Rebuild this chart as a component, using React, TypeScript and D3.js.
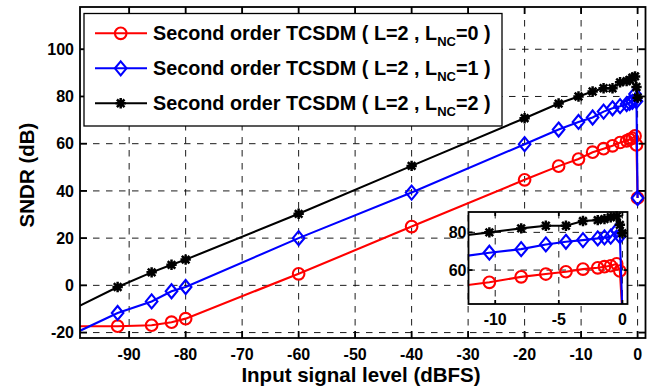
import React, { useEffect, useRef } from "react";
import * as d3 from "d3";

// input level (dBFS), shared by the three curves
const levels = [-100, -92.04, -86.02, -82.5, -80, -60, -40, -20, -13.98, -10.46, -7.96, -6.02, -4.44, -3.1, -1.94, -1.41, -0.92, -0.45, -0.2, 0];
// SNDR (dB) per configuration
const sndrNc0 = [-17.3, -17.3, -16.9, -15.6, -14.1, 4.9, 24.9, 44.7, 50.5, 53.5, 56.4, 57.9, 59.1, 60.5, 61.2, 61.8, 62.3, 63.3, 59.5, 37];
const sndrNc1 = [-20.7, -11.7, -6.8, -2.5, -0.7, 20, 39.3, 59.8, 66, 69.2, 71.1, 73.6, 75, 75.9, 76.8, 77.3, 77.7, 81, 78, 37];
const sndrNc2 = [-10.1, -0.7, 5.5, 8.7, 10.9, 30.3, 50.6, 70.8, 77, 80, 82.1, 83.5, 83.5, 86, 86.5, 87, 88, 88.5, 84, 79.5];

const seriesNames = ["0", "1", "2"];
const xTicks = [-90, -80, -70, -60, -50, -40, -30, -20, -10, 0];
const yTicks = [-20, 0, 20, 40, 60, 80, 100];
const insetXTicks = [-10, -5, 0];
const insetYTicks = [60, 80];

type Kind = "circle" | "diamond" | "star";

const FONT = "'Liberation Sans', Arial, Helvetica, sans-serif";

function markerPath(kind: Kind) {
  if (kind === "circle") return "M5.8,0A5.8,5.8 0 1,1 -5.8,0A5.8,5.8 0 1,1 5.8,0Z";
  if (kind === "diamond") return "M0,-7L5.8,0L0,7L-5.8,0Z";
  return "M-5.2,0L5.2,0M0,-5.2L0,5.2M-3.8,-3.8L3.8,3.8M-3.8,3.8L3.8,-3.8";
}

export default function App() {
  const ref = useRef<SVGSVGElement>(null);

  useEffect(() => {
    const svg = d3.select(ref.current);
    svg.selectAll("*").remove();

    const series = [
      { vals: sndrNc0, color: "#ff0000", kind: "circle" as Kind },
      { vals: sndrNc1, color: "#0000ff", kind: "diamond" as Kind },
      { vals: sndrNc2, color: "#000000", kind: "star" as Kind },
    ];

    const box = { left: 80, right: 645.5, top: 7, bottom: 338 };
    const x = d3.scaleLinear().domain([-98.7, 1.4]).range([box.left, box.right]);
    const y = d3.scaleLinear().domain([-22.3, 117.9]).range([box.bottom, box.top]);

    const ibox = { left: 468.5, right: 627.5, top: 212, bottom: 304 };
    const ix = d3.scaleLinear().domain([-12.1, 0.4]).range([ibox.left, ibox.right]);
    const iy = d3.scaleLinear().domain([42, 90.8]).range([ibox.bottom, ibox.top]);

    const defs = svg.append("defs");
    defs.append("clipPath").attr("id", "clipMain").append("rect")
      .attr("x", box.left).attr("y", box.top).attr("width", box.right - box.left).attr("height", box.bottom - box.top);
    defs.append("clipPath").attr("id", "clipInset").append("rect")
      .attr("x", ibox.left).attr("y", ibox.top).attr("width", ibox.right - ibox.left).attr("height", ibox.bottom - ibox.top);

    // draws one axes panel (grid, curves, frame, ticks)
    const panel = (
      xs: d3.ScaleLinear<number, number>, ys: d3.ScaleLinear<number, number>,
      b: typeof box, xt: number[], yt: number[], clip: string, tickLen: number, bg: boolean
    ) => {
      const g = svg.append("g");
      if (bg) g.append("rect").attr("x", b.left).attr("y", b.top).attr("width", b.right - b.left).attr("height", b.bottom - b.top).attr("fill", "#fff");

      const grid = g.append("g").attr("stroke", "#000").attr("stroke-width", 0.9).attr("stroke-dasharray", "6.5,6.5");
      xt.forEach(t => grid.append("line").attr("x1", xs(t)).attr("x2", xs(t)).attr("y1", b.top).attr("y2", b.bottom));
      yt.forEach(t => grid.append("line").attr("y1", ys(t)).attr("y2", ys(t)).attr("x1", b.left).attr("x2", b.right));

      const [d0, d1] = xs.domain();
      const [e0, e1] = ys.domain();
      series.forEach(s => {
        const pts = levels.map((l, i) => [l, s.vals[i]] as [number, number]);
        const line = d3.line<[number, number]>().x(d => xs(d[0])).y(d => ys(d[1]));
        g.append("path").attr("clip-path", `url(#${clip})`).attr("d", line(pts)!)
          .attr("fill", "none").attr("stroke", s.color).attr("stroke-width", 2.1);
        g.append("g").selectAll("path")
          .data(pts.filter(p => p[0] >= d0 && p[0] <= d1 && p[1] >= e0 && p[1] <= e1))
          .join("path")
          .attr("transform", p => `translate(${xs(p[0])},${ys(p[1])})`)
          .attr("d", markerPath(s.kind))
          .attr("fill", "none").attr("stroke", s.color)
          .attr("stroke-width", s.kind === "star" ? 2.5 : 2.1);
      });

      const fr = g.append("g").attr("stroke", "#000").attr("stroke-width", 1.8);
      fr.append("rect").attr("x", b.left).attr("y", b.top).attr("width", b.right - b.left).attr("height", b.bottom - b.top).attr("fill", "none");
      xt.forEach(t => {
        fr.append("line").attr("x1", xs(t)).attr("x2", xs(t)).attr("y1", b.bottom).attr("y2", b.bottom - tickLen);
        fr.append("line").attr("x1", xs(t)).attr("x2", xs(t)).attr("y1", b.top).attr("y2", b.top + tickLen);
      });
      yt.forEach(t => {
        fr.append("line").attr("y1", ys(t)).attr("y2", ys(t)).attr("x1", b.left).attr("x2", b.left + tickLen);
        fr.append("line").attr("y1", ys(t)).attr("y2", ys(t)).attr("x1", b.right).attr("x2", b.right - tickLen);
      });
      return g;
    };

    const main = panel(x, y, box, xTicks, yTicks, "clipMain", 7, false);
    main.selectAll(".xl").data(xTicks).join("text")
      .attr("x", d => x(d)).attr("y", 360).attr("text-anchor", "middle").text(d => String(d));
    main.selectAll(".yl").data(yTicks).join("text")
      .attr("x", 74).attr("y", d => y(d) + 5.7).attr("text-anchor", "end").text(d => String(d));

    const inset = panel(ix, iy, ibox, insetXTicks, insetYTicks, "clipInset", 4, true);
    inset.selectAll(".ixl").data(insetXTicks).join("text")
      .attr("x", d => ix(d)).attr("y", 325).attr("text-anchor", "middle").text(d => String(d));
    inset.selectAll(".iyl").data(insetYTicks).join("text")
      .attr("x", 466.5).attr("y", d => iy(d) + 5.7).attr("text-anchor", "end").text(d => String(d));

    svg.selectAll("text").attr("font-family", FONT).attr("font-weight", "bold").attr("font-size", 16).attr("fill", "#000");

    // axis titles
    svg.append("text").attr("x", 361).attr("y", 382).attr("text-anchor", "middle")
      .attr("font-family", FONT).attr("font-weight", "bold").attr("font-size", 20.5)
      .text("Input signal level (dBFS)");
    svg.append("text").attr("transform", "translate(34,175) rotate(-90)").attr("text-anchor", "middle")
      .attr("font-family", FONT).attr("font-weight", "bold").attr("font-size", 20.5)
      .text("SNDR (dB)");

    // legend
    const lg = svg.append("g");
    lg.append("rect").attr("x", 84).attr("y", 13.5).attr("width", 418).attr("height", 112.5)
      .attr("fill", "#fff").attr("stroke", "#000").attr("stroke-width", 1.3);
    series.forEach((s, i) => {
      const cy = 33.3 + i * 35;
      lg.append("line").attr("x1", 95).attr("x2", 147).attr("y1", cy).attr("y2", cy)
        .attr("stroke", s.color).attr("stroke-width", 2.1);
      lg.append("path").attr("transform", `translate(120.7,${cy})`).attr("d", markerPath(s.kind))
        .attr("fill", "none").attr("stroke", s.color).attr("stroke-width", s.kind === "star" ? 2.5 : 2.1);
      const t = lg.append("text").attr("x", 153).attr("y", cy + 7)
        .attr("font-family", FONT).attr("font-weight", "bold").attr("font-size", 19.8);
      t.append("tspan").text("Second order TCSDM ( L=2 , L");
      t.append("tspan").attr("font-size", 13).attr("dy", 5.5).text("NC");
      t.append("tspan").attr("dy", -5.5).text(`=${seriesNames[i]} )`);
    });
  }, []);

  return (
    <div style={{ position: "absolute", left: 0, top: 0 }}>
      <svg ref={ref} width={656} height={391} style={{ display: "block", background: "#fff" }} />
    </div>
  );
}
